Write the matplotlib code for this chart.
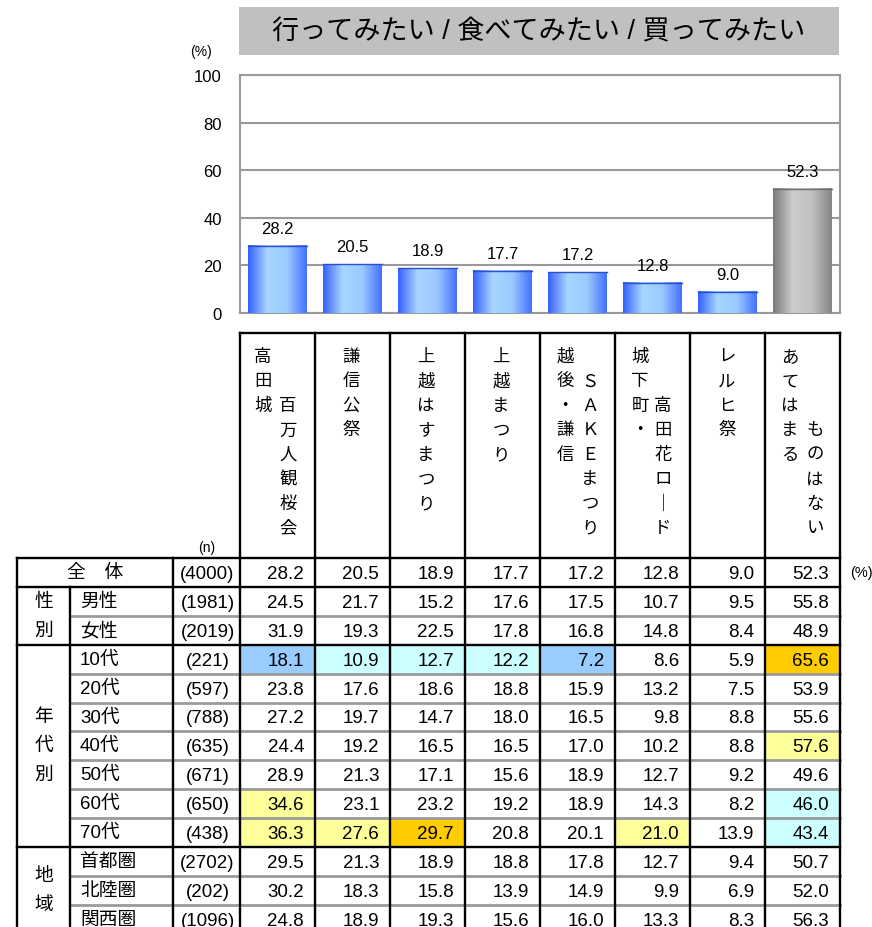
import numpy as np
import matplotlib
matplotlib.use("Agg")
import matplotlib.pyplot as plt
from matplotlib.colors import LinearSegmentedColormap
from matplotlib.patches import Rectangle

plt.rcParams['font.family'] = ['Liberation Sans', 'Noto Sans CJK JP', 'DejaVu Sans']

# ------------------------------------------------------
# data
title = "行ってみたい / 食べてみたい / 買ってみたい"
items = ["高田城 百万人観桜会", "謙信公祭", "上越はすまつり", "上越まつり",
         "越後・謙信 SAKEまつり", "城下町・高田花ロード", "レルヒ祭", "あてはまる ものはない"]
overall = [28.2, 20.5, 18.9, 17.7, 17.2, 12.8, 9.0, 52.3]
overall_n = 4000

groups = ["性別", "年代別", "地域"]
group_rows = [2, 7, 3]
row_labels = ["男性", "女性", "10代", "20代", "30代", "40代", "50代", "60代", "70代",
              "首都圏", "北陸圏", "関西圏"]
row_n = [1981, 2019, 221, 597, 788, 635, 671, 650, 438, 2702, 202, 1096]
row_values = [
    [24.5, 21.7, 15.2, 17.6, 17.5, 10.7, 9.5, 55.8],
    [31.9, 19.3, 22.5, 17.8, 16.8, 14.8, 8.4, 48.9],
    [18.1, 10.9, 12.7, 12.2, 7.2, 8.6, 5.9, 65.6],
    [23.8, 17.6, 18.6, 18.8, 15.9, 13.2, 7.5, 53.9],
    [27.2, 19.7, 14.7, 18.0, 16.5, 9.8, 8.8, 55.6],
    [24.4, 19.2, 16.5, 16.5, 17.0, 10.2, 8.8, 57.6],
    [28.9, 21.3, 17.1, 15.6, 18.9, 12.7, 9.2, 49.6],
    [34.6, 23.1, 23.2, 19.2, 18.9, 14.3, 8.2, 46.0],
    [36.3, 27.6, 29.7, 20.8, 20.1, 21.0, 13.9, 43.4],
    [29.5, 21.3, 18.9, 18.8, 17.8, 12.7, 9.4, 50.7],
    [30.2, 18.3, 15.8, 13.9, 14.9, 9.9, 6.9, 52.0],
    [24.8, 18.9, 19.3, 15.6, 16.0, 13.3, 8.3, 56.3],
]

# vertical header: (x offset in column, start line, text)
header_layout = [
    [(23, 0, "高田城"), (48, 2, "百万人観桜会")],
    [(36, 0, "謙信公祭")],
    [(36, 0, "上越はすまつり")],
    [(36, 0, "上越まつり")],
    [(25, 0, "越後・謙信"), (50, 1, "ＳＡＫＥまつり")],
    [(25, 0, "城下町・"), (48, 2, "高田花ロ｜ド")],
    [(37, 0, "レルヒ祭")],
    [(25, 0, "あてはまる"), (50, 3, "ものはない")],
]

# ------------------------------------------------------
W, H = 872, 928
fig = plt.figure(figsize=(W / 100, H / 100), dpi=100)

# bar chart area (pixels)
px_l, px_r, px_t, px_b = 240, 840, 76, 314
ax = fig.add_axes([px_l / W, 1 - px_b / H, (px_r - px_l) / W, (px_b - px_t) / H])
x = np.arange(len(overall))
bars = ax.bar(x, overall, width=0.78, color='none', edgecolor='none', zorder=3)

blue = LinearSegmentedColormap.from_list('b', ['#3560ff', '#a8d6ff', '#9cc9ff', '#4470ff'])
gray = LinearSegmentedColormap.from_list('g', ['#7a7a7a', '#cccccc', '#c0c0c0', '#858585'])
grad = np.linspace(0, 1, 256).reshape(1, -1)
for i, b in enumerate(bars):
    cm = gray if i == len(bars) - 1 else blue
    x0, w, h = b.get_x(), b.get_width(), b.get_height()
    ax.imshow(grad, extent=(x0, x0 + w, 0, h), cmap=cm, aspect='auto', zorder=3)
    ax.plot([x0, x0 + w], [h, h], color='#2a4fd0' if cm is blue else '#707070', lw=1, zorder=4)
    ax.annotate(f"{overall[i]:.1f}", (b.get_x() + w / 2, h), xytext=(0, 7),
                textcoords='offset points', ha='center', va='bottom', fontsize=12)

ax.set_xlim(-0.5, len(overall) - 0.5)
ax.set_ylim(0, 100)
ax.set_yticks([0, 20, 40, 60, 80, 100])
ax.set_xticks([])
ax.yaxis.grid(True, color='#999999', lw=1.5, zorder=0)
ax.tick_params(axis='y', length=0, pad=13, labelsize=12)
for s in ax.spines.values():
    s.set_color('#999999')
    s.set_linewidth(1.5)

# overlay in pixel coordinates for title box and table
ov = fig.add_axes([0, 0, 1, 1], zorder=5)
ov.set_xlim(0, W)
ov.set_ylim(H, 0)
ov.axis('off')
ov.patch.set_alpha(0)

ov.add_patch(Rectangle((239, 8), 600, 48, facecolor='#c0c0c0', edgecolor='none'))
ov.text(539, 33, title, ha='center', va='center', fontsize=19.5)
ov.text(201, 52, "(%)", ha='center', va='center', fontsize=10)
ov.text(207, 548, "(n)", ha='center', va='center', fontsize=10)

# table geometry
col_x = [240 + 75 * i for i in range(len(items) + 1)]
x_left, x_grp, x_n = 17, 70, 173
hdr_top, tbl_top, row_h = 334, 559, 28.9
n_rows = 1 + len(row_labels)
row_y = [tbl_top + row_h * i for i in range(n_rows + 1)]

hi_cols = {'b': '#99ccff', 'c': '#ccffff', 'y': '#ffff99', 'o': '#ffcc00'}

def cell_color(v, base):
    d = v - base
    if d >= 10:
        return hi_cols['o']
    if d >= 5:
        return hi_cols['y']
    if d <= -10:
        return hi_cols['b']
    if d <= -5:
        return hi_cols['c']
    return None

all_vals = [overall] + row_values
for r, vals in enumerate(all_vals):
    y0, y1 = row_y[r], row_y[r + 1]
    yc = (y0 + y1) / 2 + 1
    for c, v in enumerate(vals):
        if r > 0:
            fc = cell_color(v, overall[c])
            if fc:
                ov.add_patch(Rectangle((col_x[c], y0), 75, row_h, facecolor=fc,
                                       edgecolor='none', zorder=1))
        ov.text(col_x[c + 1] - 11, yc, f"{v:.1f}", ha='right', va='center', fontsize=13.5, zorder=3)
    n = overall_n if r == 0 else row_n[r - 1]
    ov.text((x_n + col_x[0]) / 2 + 1, yc, f"({n})", ha='center', va='center', fontsize=13.5, zorder=3)
    if r == 0:
        ov.text((x_left + x_n) / 2, yc - 1, "全　体", ha='center', va='center', fontsize=13.5)
    else:
        ov.text(x_grp + 10, yc - 1, row_labels[r - 1], ha='left', va='center', fontsize=13.5)

ov.text(861, (row_y[0] + row_y[1]) / 2, "(%)", ha='center', va='center', fontsize=10.5)

# group labels
start = 1
for g, cnt in zip(groups, group_rows):
    ytop, ybot = row_y[start], row_y[start + cnt]
    yc = (ytop + ybot) / 2
    pitch = 29
    for k, ch in enumerate(g):
        ov.text((x_left + x_grp) / 2, yc + (k - (len(g) - 1) / 2) * pitch, ch,
                ha='center', va='center', fontsize=13.5)
    start += cnt

# header text
pitch = 24.5
for c, segs in enumerate(header_layout):
    for dx, line, txt in segs:
        for k, ch in enumerate(txt):
            ov.text(col_x[c] + dx, 357 + (line + k) * pitch, ch, ha='center', va='center',
                    fontsize=12.5, family=['Noto Sans CJK JP', 'DejaVu Sans'])

# grid lines
blk = dict(color='black', lw=1.7, zorder=4, solid_capstyle='projecting')
gry = dict(color='#9a9a9a', lw=2.0, zorder=2)
bottom = row_y[-1]
ov.plot([col_x[0], col_x[-1]], [hdr_top, hdr_top], **blk)
for cx in col_x:
    ov.plot([cx, cx], [hdr_top, bottom], **blk)
ov.plot([x_left, x_left], [tbl_top, bottom], **blk)
ov.plot([x_n, x_n], [tbl_top, bottom], **blk)
ov.plot([x_grp, x_grp], [row_y[1], bottom], **blk)

major = [0, 1]
acc = 1
for cnt in group_rows:
    acc += cnt
    major.append(acc)
for r in range(n_rows + 1):
    y = row_y[r]
    if r in major:
        ov.plot([x_left, col_x[-1]], [y, y], **blk)
    else:
        ov.plot([x_grp, col_x[-1]], [y, y], **gry)

fig.savefig("out.png", dpi=100)
